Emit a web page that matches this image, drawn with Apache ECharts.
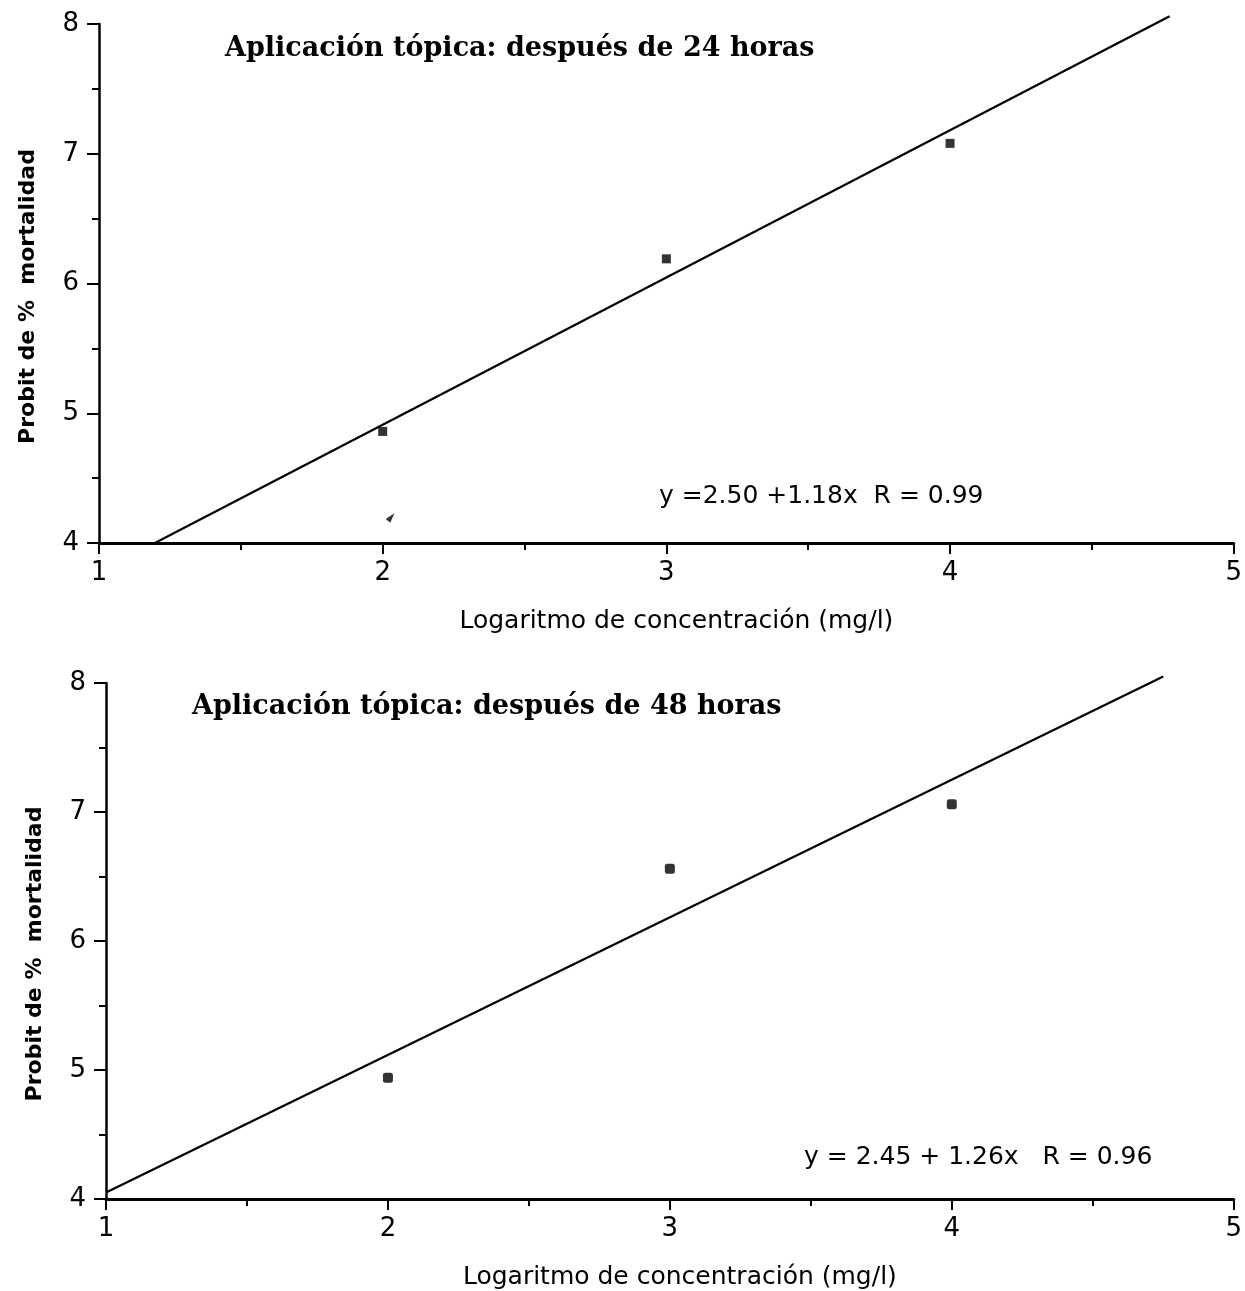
<!DOCTYPE html>
<html>
<head>
<meta charset="utf-8">
<script src="https://cdn.jsdelivr.net/npm/echarts@6/dist/echarts.min.js"></script>
<style>html,body{margin:0;padding:0;background:#fff}#c{width:1245px;height:1291px}</style>
</head>
<body>
<div id="c"></div>
<script>
// ---- data ----
const xRange = [1, 5];
const yRange = [4, 8];
const title24 = 'Aplicación tópica: después de 24 horas';
const title48 = 'Aplicación tópica: después de 48 horas';
const eq24 = 'y =2.50 +1.18x  R = 0.99';
const eq48 = 'y = 2.45 + 1.26x   R = 0.96';
const xName = 'Logaritmo de concentración (mg/l)';
const yName = 'Probit de %  mortalidad';
const points24 = [[2, 4.86], [3, 6.19], [4, 7.08]];
const stray24 = [[2.03, 4.2]];
const fit24 = [[1.197, 4.0], [4.774, 8.06]];
const points48 = [[2, 4.94], [3, 6.56], [4, 7.06]];
const fit48 = [[1.0, 4.05], [4.75, 8.05]];

const chart = echarts.init(document.getElementById('c'));
const axisFont = 'DejaVu Sans';
function xAx(gi) {
  return {
    type: 'value', gridIndex: gi, min: xRange[0], max: xRange[1], interval: 1,
    name: xName, nameLocation: 'middle', nameGap: 66,
    nameTextStyle: {fontFamily: axisFont, fontSize: 25, color: '#000', padding: [0, 0, 0, 20]},
    axisLine: {onZero: false, lineStyle: {color: '#000', width: 3}},
    axisTick: {show: true, length: 11, lineStyle: {color: '#000', width: 2}},
    minorTick: {show: true, splitNumber: 2, length: 7, lineStyle: {color: '#000', width: 2}},
    axisLabel: {fontFamily: axisFont, fontSize: 26, color: '#000', margin: 17},
    splitLine: {show: false}
  };
}
function yAx(gi) {
  return {
    type: 'value', gridIndex: gi, min: yRange[0], max: yRange[1], interval: 1,
    name: yName, nameLocation: 'middle', nameGap: 60,
    nameTextStyle: {fontFamily: axisFont, fontSize: 22, fontWeight: 'bold', color: '#000', padding: [0, 26, 0, 0]},
    axisLine: {onZero: false, lineStyle: {color: '#000', width: 2.5}},
    axisTick: {show: true, length: 12, lineStyle: {color: '#000', width: 2}},
    minorTick: {show: true, splitNumber: 2, length: 7, lineStyle: {color: '#000', width: 2}},
    axisLabel: {fontFamily: axisFont, fontSize: 26, color: '#000', margin: 20},
    splitLine: {show: false}
  };
}
const titleStyle = {fontFamily: 'DejaVu Serif', fontWeight: 'bold', fontSize: 27, color: '#000'};
const eqStyle = {fontFamily: axisFont, fontWeight: 'normal', fontSize: 25, color: '#000'};
chart.setOption({
  animation: false,
  backgroundColor: '#fff',
  title: [
    {text: title24, left: 220, top: 30, textStyle: titleStyle},
    {text: title48, left: 187, top: 688, textStyle: titleStyle},
    {text: eq24, left: 654, top: 479, textStyle: eqStyle},
    {text: eq48, left: 799, top: 1140, textStyle: eqStyle}
  ],
  grid: [
    {left: 99, width: 1135, top: 24, height: 519},
    {left: 106, width: 1134, top: 683, height: 519}
  ],
  xAxis: [xAx(0), xAx(1)],
  yAxis: [yAx(0), yAx(1)],
  series: [
    {type: 'line', xAxisIndex: 0, yAxisIndex: 0, data: fit24, showSymbol: false, clip: false,
     lineStyle: {color: '#000', width: 2.2}},
    {type: 'scatter', xAxisIndex: 0, yAxisIndex: 0, data: points24, symbol: 'rect', symbolSize: 9,
     itemStyle: {color: '#000'}},
    {type: 'scatter', xAxisIndex: 0, yAxisIndex: 0, data: stray24, symbol: 'triangle', symbolSize: [6, 10],
     symbolRotate: -40, itemStyle: {color: '#000'}},
    {type: 'line', xAxisIndex: 1, yAxisIndex: 1, data: fit48, showSymbol: false, clip: false,
     lineStyle: {color: '#000', width: 2.2}},
    {type: 'scatter', xAxisIndex: 1, yAxisIndex: 1, data: points48, symbol: 'roundRect', symbolSize: 10,
     itemStyle: {color: '#000'}}
  ]
});
</script>
</body>
</html>
